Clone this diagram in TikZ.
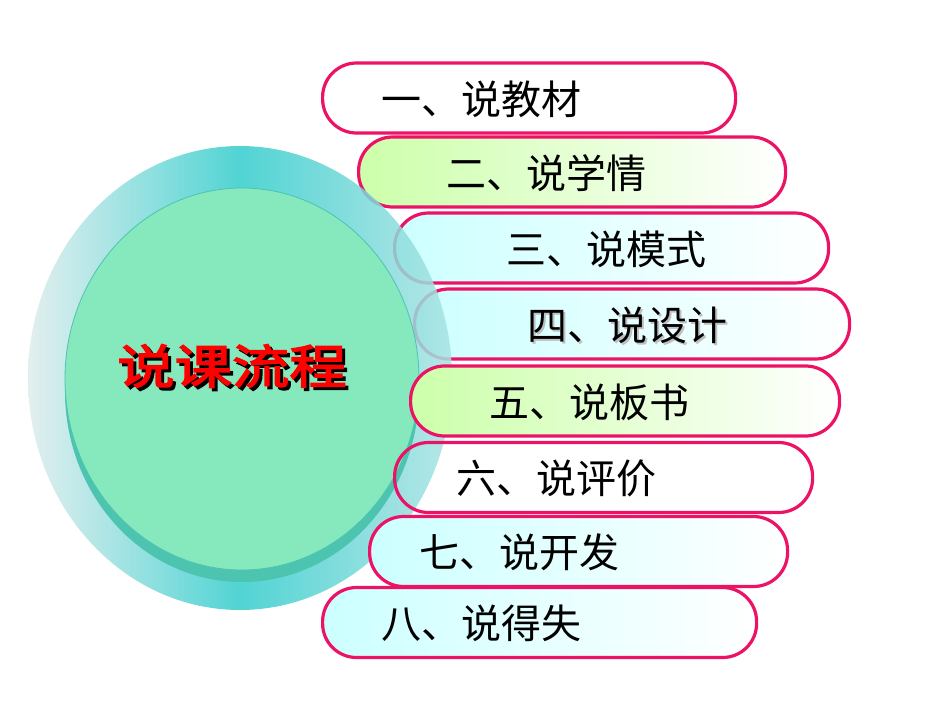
\documentclass[tikz,border=0pt]{standalone}
\usepackage{fontspec}
\usepackage{tikz}
\usetikzlibrary{positioning}
\newfontfamily\cjkfont{Noto Sans CJK SC}
\newfontfamily\titlefont[FakeBold=3,FakeStretch=1.22]{Noto Sans CJK SC}
\definecolor{pinkline}{RGB}{236,18,102}
\definecolor{greenfill}{RGB}{204,255,170}
\definecolor{cyanfill}{RGB}{204,255,255}
\definecolor{ringedge}{RGB}{222,236,236}
\definecolor{ringmid}{RGB}{51,204,204}
\definecolor{rimteal}{RGB}{76,196,176}
\definecolor{facegreen}{RGB}{133,233,189}
\tikzset{
  pill/.style={draw=pinkline, line width=1.6pt, rounded corners=17pt, minimum height=35pt, inner sep=0pt, anchor=west},
  greenpill/.style={pill, left color=greenfill, right color=white},
  cyanpill/.style={pill, left color=cyanfill, right color=white},
  item/.style={font=\cjkfont\fontsize{20}{22}\selectfont, anchor=west, inner sep=0pt},
  headline/.style={font=\titlefont\fontsize{23.5}{26}\selectfont, inner sep=0pt},
}
\begin{document}
\begin{tikzpicture}[x=0.5pt, y=-0.5pt]
    \useasboundingbox (0,0) rectangle (950,713);
    \node[greenpill, minimum width=213.5pt] (p2) at (357,172) {};
    \node[cyanpill, minimum width=217pt] (p3) at (393,248) {};
    \node[cyanpill, minimum width=217.5pt] (p4) at (413,324) {};

    \shade[left color=ringedge, right color=ringedge!70!ringmid, middle color=ringmid, opacity=0.85]
        (240,378) ellipse [x radius=212, y radius=232];
    \fill[rimteal] (242,391) ellipse [x radius=177, y radius=191];
    \filldraw[fill=facegreen, draw=rimteal, thin] (242,379) ellipse [x radius=177, y radius=191];

    \node[pill, minimum width=206.5pt] (p1) at (321,98) {};
    \node[greenpill, minimum width=214.5pt] (p5) at (409,401) {};
    \node[pill, minimum width=209pt] (p6) at (393,477.5) {};
    \node[cyanpill, minimum width=209pt] (p7) at (368,551.5) {};
    \node[cyanpill, minimum width=217pt] (p8) at (321,622.5) {};

    \node[item] (t1) at (381,99) {一、说教材};
    \node[item] (t2) at (446,173) {二、说学情};
    \node[item] (t3) at (506,249) {三、说模式};
    \node[item, text=black!25] (t4s) at (529,327) {四、说设计};
    \node[item] (t4) at (527,325) {四、说设计};
    \node[item] (t5) at (489,402) {五、说板书};
    \node[item] (t6) at (456,478) {六、说评价};
    \node[item] (t7) at (419,552) {七、说开发};
    \node[item] (t8) at (381,623) {八、说得失};

    \node[headline, text=black] (titleshadow) at (235,369) {说课流程};
    \node[headline, text=red] (title) at (232,366) {说课流程};
\end{tikzpicture}
\end{document}
